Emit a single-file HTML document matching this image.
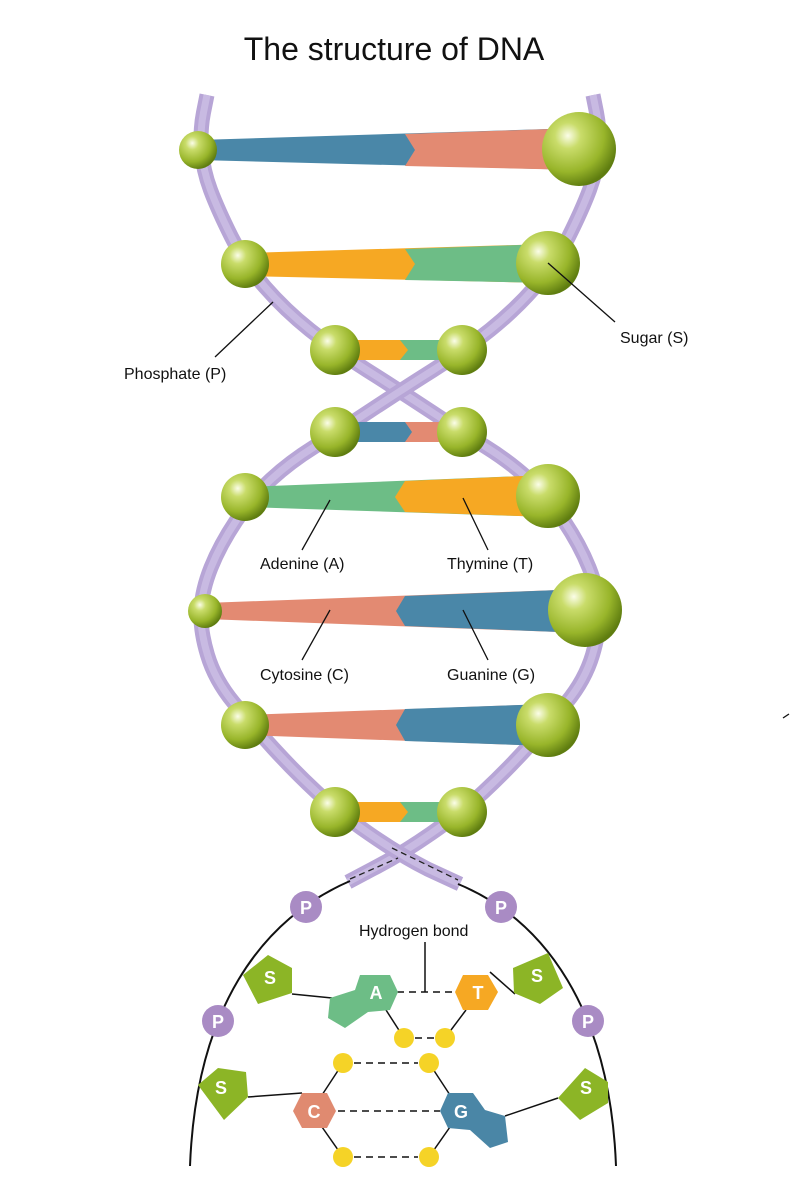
<!DOCTYPE html>
<html><head><meta charset="utf-8"><style>
html,body{margin:0;padding:0;background:#fff;}
svg{display:block;}
text{font-family:"Liberation Sans",Arial,sans-serif;}
</style></head><body>
<svg width="793" height="1200" viewBox="0 0 793 1200" xmlns="http://www.w3.org/2000/svg">
<defs>
<radialGradient id="ball" cx="0.35" cy="0.32" r="0.7">
<stop offset="0" stop-color="#fbfde8"/>
<stop offset="0.25" stop-color="#c9dc6a"/>
<stop offset="0.7" stop-color="#98b52a"/>
<stop offset="1" stop-color="#5f7d10"/>
</radialGradient>
</defs>
<text x="394" y="60" font-size="32" text-anchor="middle" fill="#111">The structure of DNA</text>

<!-- strands -->
<g fill="none" stroke-linecap="butt">
<path d="M207,95 L203.5,112.5 Q200,130 201.5,150 Q203,170 210.5,190 Q218,210 231.5,237 Q245,264 265,287 Q285,310 310,330 Q335,350 367.5,370.5 Q400,391 431,411.5 Q462,432 486,447 Q510,462 529,479.5 Q548,497 564,521 Q580,545 589,567.5 Q598,590 599,610 Q600,630 592.5,655 Q585,680 566.5,702.5 Q548,725 526.5,748.5 Q505,772 483.5,792 Q462,812 431,833.5 Q400,855 372.5,869 L348,882" stroke="#b7a5d6" stroke-width="15"/>
<path d="M207,95 L203.5,112.5 Q200,130 201.5,150 Q203,170 210.5,190 Q218,210 231.5,237 Q245,264 265,287 Q285,310 310,330 Q335,350 367.5,370.5 Q400,391 431,411.5 Q462,432 486,447 Q510,462 529,479.5 Q548,497 564,521 Q580,545 589,567.5 Q598,590 599,610 Q600,630 592.5,655 Q585,680 566.5,702.5 Q548,725 526.5,748.5 Q505,772 483.5,792 Q462,812 431,833.5 Q400,855 372.5,869 L348,882" stroke="#c8bae2" stroke-width="7"/>
<path d="M593,95 L596.5,112.5 Q600,130 598.5,150 Q597,170 589.5,190 Q582,210 568.5,237 Q555,264 535,287 Q515,310 490,330 Q465,350 432.5,370.5 Q400,391 369,411.5 Q338,432 314,447 Q290,462 271,479.5 Q252,497 236,521 Q220,545 211,567.5 Q202,590 201,610 Q200,630 207.5,655 Q215,680 233.5,702.5 Q252,725 273.5,748.5 Q295,772 316.5,792 Q338,812 369,833.5 Q400,855 427.5,869 L460,884" stroke="#b7a5d6" stroke-width="15"/>
<path d="M593,95 L596.5,112.5 Q600,130 598.5,150 Q597,170 589.5,190 Q582,210 568.5,237 Q555,264 535,287 Q515,310 490,330 Q465,350 432.5,370.5 Q400,391 369,411.5 Q338,432 314,447 Q290,462 271,479.5 Q252,497 236,521 Q220,545 211,567.5 Q202,590 201,610 Q200,630 207.5,655 Q215,680 233.5,702.5 Q252,725 273.5,748.5 Q295,772 316.5,792 Q338,812 369,833.5 Q400,855 427.5,869 L460,884" stroke="#c8bae2" stroke-width="7"/>
<path d="M350,879 L398,858" stroke="#222" stroke-width="1.3" stroke-dasharray="6,4"/>
<path d="M392,848 L458,880" stroke="#222" stroke-width="1.3" stroke-dasharray="6,4"/>
</g>

<!-- bars -->
<polygon points="198,140 579,128 579,170 198,160" fill="#4a87a8"/>
<polygon points="405,134 579,128 579,170 405,166 415,150" fill="#e38a72"/>
<polygon points="245,253 548,244 548,283 245,276" fill="#f6a823"/>
<polygon points="405,249 548,244 548,283 405,280 415,264" fill="#6dbd86"/>
<polygon points="335,340 462,340 462,360 335,360" fill="#f6a823"/>
<polygon points="400,340 462,340 462,360 400,360 408,350" fill="#6dbd86"/>
<polygon points="335,422 462,422 462,442 335,442" fill="#4a87a8"/>
<polygon points="405,422 462,422 462,442 405,442 412,432" fill="#e38a72"/>
<polygon points="245,487 548,475 548,517 245,507" fill="#6dbd86"/>
<polygon points="405,481 548,475 548,517 405,512 395,497" fill="#f6a823"/>
<polygon points="205,603 585,589 585,633 205,619" fill="#e38a72"/>
<polygon points="405,596 585,589 585,633 405,626 396,611" fill="#4a87a8"/>
<polygon points="245,715 548,704 548,746 245,735" fill="#e38a72"/>
<polygon points="405,709 548,704 548,746 405,741 396,725" fill="#4a87a8"/>
<polygon points="335,802 462,802 462,822 335,822" fill="#f6a823"/>
<polygon points="400,802 462,802 462,822 400,822 408,812" fill="#6dbd86"/>

<!-- balls -->
<g fill="url(#ball)">
<circle cx="198" cy="150" r="19"/><circle cx="579" cy="149" r="37"/>
<circle cx="245" cy="264" r="24"/><circle cx="548" cy="263" r="32"/>
<circle cx="335" cy="350" r="25"/><circle cx="462" cy="350" r="25"/>
<circle cx="335" cy="432" r="25"/><circle cx="462" cy="432" r="25"/>
<circle cx="245" cy="497" r="24"/><circle cx="548" cy="496" r="32"/>
<circle cx="205" cy="611" r="17"/><circle cx="585" cy="610" r="37"/>
<circle cx="245" cy="725" r="24"/><circle cx="548" cy="725" r="32"/>
<circle cx="335" cy="812" r="25"/><circle cx="462" cy="812" r="25"/>
</g>

<!-- label lines -->
<g stroke="#111" stroke-width="1.3" fill="none">
<line x1="273" y1="302" x2="215" y2="357"/>
<line x1="548" y1="263" x2="615" y2="322"/>
<line x1="330" y1="500" x2="302" y2="550"/>
<line x1="463" y1="498" x2="488" y2="550"/>
<line x1="330" y1="610" x2="302" y2="660"/>
<line x1="463" y1="610" x2="488" y2="660"/>
<line x1="783" y1="718" x2="789" y2="714"/>
</g>
<g font-size="16" fill="#111">
<text x="124" y="379">Phosphate (P)</text>
<text x="620" y="343">Sugar (S)</text>
<text x="260" y="569">Adenine (A)</text>
<text x="447" y="569">Thymine (T)</text>
<text x="260" y="680">Cytosine (C)</text>
<text x="447" y="680">Guanine (G)</text>
<text x="359" y="936">Hydrogen bond</text>
</g>

<!-- bottom schematic -->
<g fill="none" stroke="#111" stroke-width="2">
<path d="M190,1166 C196,1010 260,920 350,881"/>
<path d="M458,884 C545,920 610,1010 616,1166"/>
</g>
<g stroke="#111" stroke-width="1.5" fill="none">
<line x1="425" y1="942" x2="425" y2="992"/>
<line x1="292" y1="994" x2="332" y2="998"/>
<line x1="490" y1="972" x2="515" y2="994"/>
<line x1="248" y1="1097" x2="302" y2="1093"/>
<line x1="505" y1="1116" x2="558" y2="1098"/>
<line x1="386" y1="1010" x2="404" y2="1038"/>
<line x1="466" y1="1010" x2="445" y2="1038"/>
<line x1="343" y1="1063" x2="322" y2="1095"/>
<line x1="429" y1="1063" x2="450" y2="1095"/>
<line x1="322" y1="1127" x2="343" y2="1157"/>
<line x1="450" y1="1127" x2="429" y2="1157"/>
</g>
<g stroke="#111" stroke-width="1.5" stroke-dasharray="7,5" fill="none">
<line x1="397" y1="992" x2="458" y2="992"/>
<line x1="415" y1="1038" x2="434" y2="1038"/>
<line x1="354" y1="1063" x2="418" y2="1063"/>
<line x1="338" y1="1111" x2="440" y2="1111"/>
<line x1="354" y1="1157" x2="418" y2="1157"/>
</g>
<g fill="#f5d327">
<circle cx="404" cy="1038" r="10"/><circle cx="445" cy="1038" r="10"/>
<circle cx="343" cy="1063" r="10"/><circle cx="429" cy="1063" r="10"/>
<circle cx="343" cy="1157" r="10"/><circle cx="429" cy="1157" r="10"/>
</g>
<g fill="#a98bc4">
<circle cx="306" cy="907" r="16"/><circle cx="501" cy="907" r="16"/>
<circle cx="218" cy="1021" r="16"/><circle cx="588" cy="1021" r="16"/>
</g>
<g fill="#8cb526">
<polygon points="243,975 268,955 292,968 292,993 258,1004"/>
<polygon points="513,968 548,953 563,988 540,1004 514,993"/>
<polygon points="198,1085 218,1068 246,1072 248,1097 224,1120"/>
<polygon points="558,1098 585,1068 608,1082 608,1103 580,1120"/>
</g>
<polygon points="360,975 390,975 398,992 390,1010 368,1012 345,1028 328,1018 330,998 355,990" fill="#6dbd86"/>
<polygon points="463,975 488,975 498,992 488,1010 463,1010 455,992" fill="#f6a823"/>
<polygon points="302,1093 327,1093 336,1111 327,1128 302,1128 293,1111" fill="#e08a70"/>
<polygon points="448,1093 473,1093 485,1110 505,1116 508,1142 490,1148 470,1130 448,1128 440,1111" fill="#4a86a6"/>
<g font-size="18" font-weight="bold" fill="#fff" text-anchor="middle">
<text x="306" y="914">P</text><text x="501" y="914">P</text>
<text x="218" y="1028">P</text><text x="588" y="1028">P</text>
<text x="270" y="984">S</text><text x="537" y="982">S</text>
<text x="221" y="1094">S</text><text x="586" y="1094">S</text>
<text x="376" y="999">A</text><text x="478" y="999">T</text>
<text x="314" y="1118">C</text><text x="461" y="1118">G</text>
</g>
</svg>
</body></html>
